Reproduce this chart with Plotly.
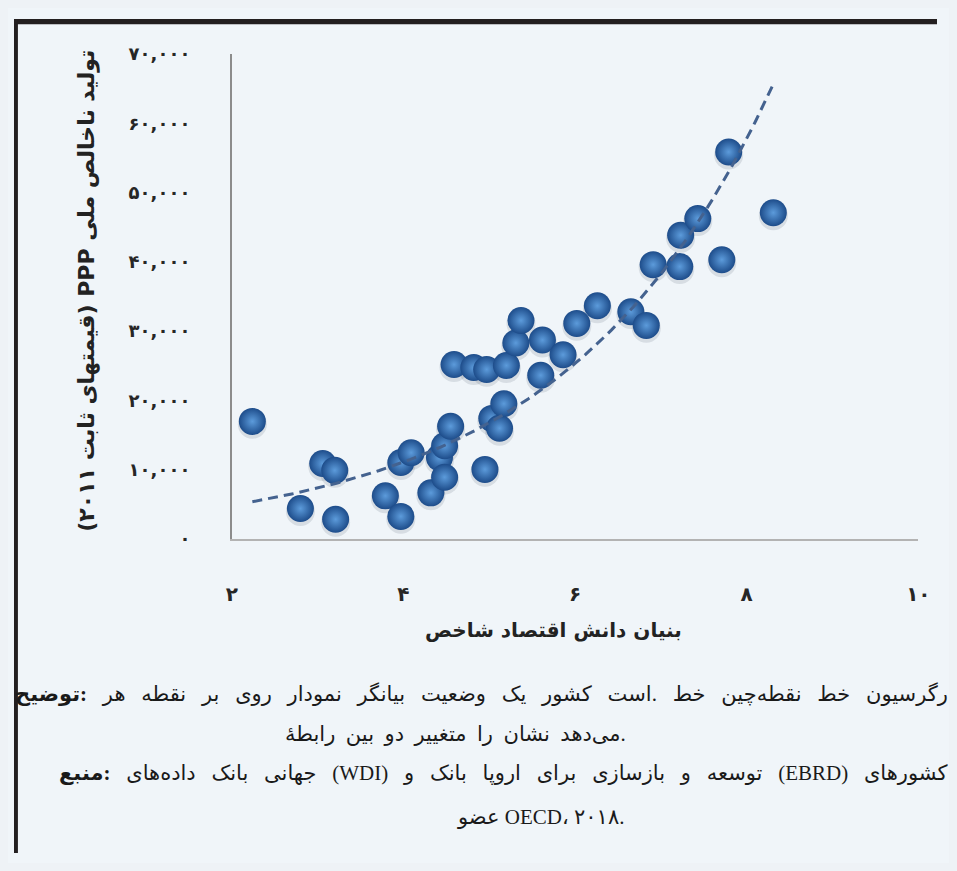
import unicodedata
import numpy as np
import plotly.graph_objects as go

# the page keeps the browser's default 8px body margin, so the figure is sized to fill
# the 957x871 window exactly inside that margin
PAGE_W, PAGE_H, OFF = 957, 871, 8
W, H = PAGE_W - 2 * OFF, PAGE_H - 2 * OFF

# ---- data ----
kei = [2.24, 2.80, 3.06, 3.20, 3.21, 3.79, 3.97, 3.97, 4.09, 4.32,
       4.42, 4.48, 4.48, 4.55, 4.59, 4.82, 4.97, 5.20, 4.95, 5.03,
       5.12, 5.17, 5.31, 5.37, 5.62, 5.60, 5.86, 6.02, 6.26, 6.65,
       6.83, 6.91, 7.22, 7.23, 7.43, 7.71, 7.79, 8.31]
gdp = [16970, 4380, 10890, 9900, 2830, 6220, 11030, 3250, 12450, 6650,
       11740, 13440, 8910, 16270, 25180, 24750, 24470, 25040, 10040, 17400,
       15980, 19520, 28290, 31540, 28710, 23620, 26590, 31120, 33660, 32810,
       30830, 39600, 39320, 43850, 46250, 40310, 55870, 47100]

x_tick_vals = [2, 4, 6, 8, 10]
x_tick_text = ["۲", "۴", "۶", "۸", "۱۰"]
y_tick_vals = [0, 10000, 20000, 30000, 40000, 50000, 60000, 70000]
y_tick_text = ["۰", "۱۰,۰۰۰", "۲۰,۰۰۰", "۳۰,۰۰۰", "۴۰,۰۰۰", "۵۰,۰۰۰", "۶۰,۰۰۰", "۷۰,۰۰۰"]

x_title = "شاخص اقتصاد دانش بنیان"
y_title = "تولید ناخالص ملی PPP (قیمتهای ثابت ۲۰۱۱)"
note_1 = "*توضیح: هر نقطه بر روی نمودار بیانگر وضعیت یک کشور است. خط نقطه‌چین خط رگرسیون"
note_2 = "رابطهٔ بین دو متغییر را نشان می‌دهد."
note_3 = "*منبع: داده‌های بانک جهانی (WDI) و بانک اروپا برای بازسازی و توسعه (EBRD) کشورهای"
note_4 = "عضو OECD، ۲۰۱۸."

# exponential trend line (least squares on log y, like a spreadsheet trendline)
slope, intercept = np.polyfit(np.array(kei), np.log(np.array(gdp)), 1)
trend_x = np.linspace(min(kei), max(kei), 120)
trend_y = np.exp(intercept + slope * trend_x)

LRO, RLO, PDF = "&#x202D;", "&#x202E;", "&#x202C;"
RLI, PDI = "&#x2067;", "&#x2069;"


def is_ar_letter(c):
    return (0x0600 <= ord(c) <= 0x06FF and unicodedata.category(c)[0] in "LM") or c == "\u200c"


def token(tok):
    bold = tok.startswith("*")
    if bold:
        tok = tok[1:]
    if any(0x0620 <= ord(c) <= 0x06D3 for c in tok):
        i, j = 0, len(tok)
        while i < j and not is_ar_letter(tok[i]):
            i += 1
        while j > i and not is_ar_letter(tok[j - 1]):
            j -= 1
        out = tok[:i] + RLO + tok[i:j] + PDF + tok[j:]
    else:
        out = tok
    return "<b>" + out + "</b>" if bold else out


def ltr_words(s, gap=" "):
    # the source lays its words out left-to-right
    return LRO + gap.join(token(t) for t in s.split(" ")) + PDF


def px(xp):
    return (xp - OFF) / W


def py(yp):
    return 1 - (yp - OFF) / H


BG = "#F0F5F9"
FONT_FA = "DejaVu Sans"
FONT_NOTE = "Liberation Serif, DejaVu Sans"
SHADOW_DROP = 420  # small downward drop of the soft shadow, in y units

fig = go.Figure()

# soft shadow under the spheres
fig.add_trace(go.Scatter(
    x=kei, y=[v - SHADOW_DROP for v in gdp], mode="markers", hoverinfo="skip", showlegend=False,
    marker=dict(size=29, color="rgba(50,60,85,0.13)", line=dict(width=0)),
))
# spheres
fig.add_trace(go.Scatter(
    x=kei, y=gdp, mode="markers", showlegend=False,
    marker=dict(size=27, color="#1D4C8A",
                gradient=dict(type="radial", color="#5C9BDB"),
                line=dict(width=0)),
))
# dashed trend line
fig.add_trace(go.Scatter(
    x=trend_x, y=trend_y, mode="lines", showlegend=False, hoverinfo="skip",
    line=dict(color="#44628F", width=3, dash="10px,6px"),
))

shapes = [
    dict(type="rect", xref="paper", yref="paper", x0=0, x1=1, y0=py(13.5), y1=1,
         fillcolor="#231F20", line=dict(width=0), layer="below"),
    dict(type="rect", xref="paper", yref="paper", x0=0, x1=px(12), y0=0, y1=1,
         fillcolor="#231F20", line=dict(width=0), layer="below"),
]

NB1 = " \u00a0"
NB2 = " \u00a0\u00a0"
annotations = [
    dict(text=RLI + y_title + PDI, textangle=-90, xref="paper", yref="paper",
         x=px(83), y=py(287), xanchor="center", yanchor="middle", showarrow=False,
         font=dict(family=FONT_FA, size=22, color="#222222", weight="bold")),
    dict(text=ltr_words(x_title), xref="paper", yref="paper",
         x=px(558), y=py(634), xanchor="center", yanchor="middle", showarrow=False,
         font=dict(family=FONT_FA, size=20, color="#222222", weight="bold")),
    dict(text=ltr_words(note_1, NB2), xref="paper", yref="paper",
         x=px(962), y=py(700), xanchor="right", yanchor="middle", showarrow=False,
         font=dict(family=FONT_NOTE, size=21, color="#1A1A1A")),
    dict(text=ltr_words(note_2, NB1), xref="paper", yref="paper",
         x=px(634), y=py(741), xanchor="right", yanchor="middle", showarrow=False,
         font=dict(family=FONT_NOTE, size=21, color="#1A1A1A")),
    dict(text=ltr_words(note_3, NB2), xref="paper", yref="paper",
         x=px(962), y=py(781), xanchor="right", yanchor="middle", showarrow=False,
         font=dict(family=FONT_NOTE, size=21, color="#1A1A1A")),
    dict(text=ltr_words(note_4), xref="paper", yref="paper",
         x=px(632), y=py(826), xanchor="right", yanchor="middle", showarrow=False,
         font=dict(family=FONT_NOTE, size=21, color="#1A1A1A")),
]

fig.update_layout(
    width=W, height=H,
    margin=dict(l=0, r=0, t=0, b=0),
    paper_bgcolor=BG, plot_bgcolor=BG,
    shapes=shapes, annotations=annotations,
    xaxis=dict(domain=[px(230), px(930)], range=[2, 10],
               tickvals=x_tick_vals, ticktext=x_tick_text,
               showgrid=False, zeroline=False, ticks="",
               showline=True, linecolor="#B3B3B3", linewidth=2,
               ticklabelstandoff=36,
               tickfont=dict(family=FONT_FA, size=20, color="#262626", weight="bold")),
    yaxis=dict(domain=[py(541), py(44)], range=[0, 70000],
               tickvals=y_tick_vals, ticktext=y_tick_text,
               showgrid=False, zeroline=False, ticks="",
               showline=True, linecolor="#8C8C8C", linewidth=1.5,
               ticklabelstandoff=36,
               tickfont=dict(family=FONT_FA, size=18, color="#262626", weight="bold")),
)

fig.write_html("out.html", config={"displayModeBar": False},
               post_script="document.documentElement.style.background='#EEF2F6';"
                           "document.body.style.background='#EEF2F6';")
